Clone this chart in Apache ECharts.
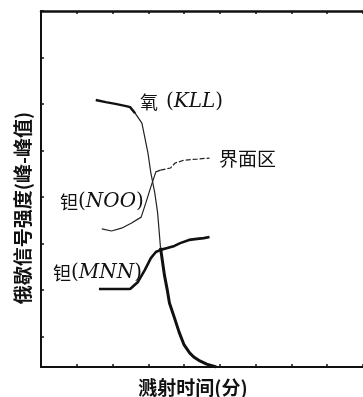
<!DOCTYPE html>
<html><head><meta charset="utf-8">
<script src="https://cdn.jsdelivr.net/npm/echarts@6/dist/echarts.min.js"></script>
<style>html,body{margin:0;padding:0;background:#fff}#c{width:363px;height:397px}</style>
</head><body><div id="c"></div>
<script>
// sputtering time (arbitrary minutes, tick every 1)
var oxygenX = [1.53,1.81,2.08,2.38,2.49,2.63,2.82,2.90,2.99,3.07,3.18,3.26,3.34,3.45,3.53,3.59,3.73,3.86,4.00,4.16,4.27,4.44,4.63,4.90];
var oxygenY = [75.0,74.4,73.9,73.3,73.0,71.3,68.5,64.6,60.1,54.5,48.9,43.3,33.5,25.8,21.6,18.0,13.8,9.8,6.2,3.9,2.8,1.7,0.8,0];
var nooX = [1.70,1.97,2.25,2.52,2.80,2.93,3.07,3.21,3.34,3.48,3.62,3.75,4.00,4.36,4.71];
var nooY = [38.8,38.2,39.0,40.4,42.1,46.1,50.6,54.8,55.3,55.6,55.9,57.3,58.1,58.4,58.7];
var mnnX = [1.62,1.97,2.49,2.71,2.90,3.07,3.21,3.34,3.53,3.73,3.89,4.14,4.36,4.55,4.71];
var mnnY = [21.9,21.9,21.9,23.9,27.2,30.6,32.3,32.9,33.4,34.0,34.8,35.7,36.0,36.2,36.5];
var xTitle = '溅射时间(分)';
var yTitle = '俄歇信号强度(峰-峰值)';

function pairs(xs, ys, a, b){ var r=[]; for(var i=a;i<b;i++) r.push([xs[i], ys[i]]); return r; }

var chart = echarts.init(document.getElementById('c'));
var lineBase = {type:'line', showSymbol:false, symbol:'none', smooth:false, animation:false, xAxisIndex:0, yAxisIndex:0};
var axisCommon = {
  type:'value', min:0, max:9, interval:1,
  axisLine:{show:true, onZero:false, lineStyle:{color:'#111', width:2}},
  axisTick:{show:true, inside:true, length:3, lineStyle:{color:'#111', width:1.5}},
  axisLabel:{show:false}, splitLine:{show:false}
};
var richLbl = {c:{font:'18px "Noto Sans CJK SC"', fill:'#111'}, s:{font:'18px "Noto Sans CJK SC"', width:8}, p:{font:'20px "DejaVu Serif"', fill:'#111'}, i:{font:'italic 20px "DejaVu Serif"', fill:'#111'}};
chart.setOption({
  animation:false,
  grid:{left:41, top:11, bottom:30, right:-6.5, containLabel:false},
  xAxis:[
    Object.assign({position:'bottom'}, axisCommon),
    Object.assign({position:'top'}, axisCommon, {axisLine:{show:true, onZero:false, lineStyle:{color:'#111', width:2.5}}})
  ],
  yAxis:[
    {type:'value', min:0, max:100, position:'left',
     axisLine:{show:true, onZero:false, lineStyle:{color:'#111', width:2}},
     axisTick:{show:false}, axisLabel:{show:false}, splitLine:{show:false}},
    {type:'value', inverse:true, min:0, max:7.656, interval:1, position:'left', offset:0,
     axisLine:{show:false},
     axisTick:{show:true, inside:true, length:3, lineStyle:{color:'#111', width:1.5}},
     axisLabel:{show:false}, splitLine:{show:false}}
  ],
  series:[
    Object.assign({}, lineBase, {name:'氧a', data:pairs(oxygenX, oxygenY, 0, 6), lineStyle:{color:'#111', width:2.4}}),
    Object.assign({}, lineBase, {name:'氧b', data:pairs(oxygenX, oxygenY, 5, 13), lineStyle:{color:'#222', width:1.2}}),
    Object.assign({}, lineBase, {name:'氧c', data:pairs(oxygenX, oxygenY, 12, oxygenX.length), lineStyle:{color:'#111', width:3}}),
    Object.assign({}, lineBase, {name:'钽NOO', data:pairs(nooX, nooY, 0, 9), lineStyle:{color:'#222', width:1.2}}),
    Object.assign({}, lineBase, {name:'钽NOO2', data:pairs(nooX, nooY, 8, nooX.length), lineStyle:{color:'#222', width:1.2, type:[5,2]}}),
    Object.assign({}, lineBase, {name:'钽MNN', data:pairs(mnnX, mnnY, 0, mnnX.length), lineStyle:{color:'#111', width:2.6}})
  ],
  graphic:[
    {type:'text', x:193, y:388, style:{text:xTitle, font:'bold 19px "Noto Sans CJK SC"', fill:'#111', align:'center', verticalAlign:'middle'}},
    {type:'text', x:23, y:208, rotation:Math.PI/2, style:{text:yTitle, font:'bold 19px "Noto Sans CJK SC"', fill:'#111', align:'center', verticalAlign:'middle'}},
    {type:'text', x:140, y:102, style:{text:'{c|氧}{s| }{p|(}{i|KLL}{p|)}', verticalAlign:'middle', align:'left', rich:richLbl}},
    {type:'text', x:219, y:159, style:{text:'界面区', font:'19px "Noto Sans CJK SC"', fill:'#111', align:'left', verticalAlign:'middle'}},
    {type:'text', x:60, y:202, style:{text:'{c|钽}{p|(}{i|NOO}{p|)}', verticalAlign:'middle', align:'left', rich:richLbl}},
    {type:'text', x:53, y:273, style:{text:'{c|钽}{p|(}{i|MNN}{p|)}', verticalAlign:'middle', align:'left', rich:richLbl}}
  ]
});
</script></body></html>
